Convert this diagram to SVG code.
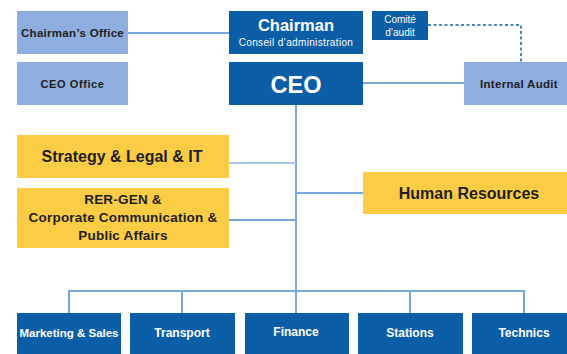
<svg xmlns="http://www.w3.org/2000/svg" width="567" height="354" viewBox="0 0 567 354">
<style>
.dark{fill:#0a5ea8}
.light{fill:#8eaedf}
.yellow{fill:#fccc45}
.conn{stroke:#76a8dc;stroke-width:2;fill:none}
.dash{stroke:#0a5ea8;stroke-width:1.5;fill:none;stroke-dasharray:3 2.5}
text{font-family:"Liberation Sans",Arial,sans-serif;font-weight:bold;text-anchor:middle}
.w{fill:#ffffff}
.k{fill:#1e1e1e}
.n{font-weight:normal}
</style>
<rect width="567" height="354" fill="#ffffff"/>
<g id="connectors">
<line class="conn" x1="128" y1="33" x2="229" y2="33"/>
<line class="conn" x1="363" y1="83" x2="464" y2="83"/>
<path class="dash" d="M428 25 H521 V62"/>
<line class="conn" x1="296" y1="105" x2="296" y2="313"/>
<line class="conn" x1="229" y1="163" x2="296" y2="163" style="stroke:#a9c8ea"/>
<line class="conn" x1="229" y1="220" x2="296" y2="220"/>
<line class="conn" x1="296" y1="193" x2="363" y2="193"/>
<path class="conn" d="M69 313 V291 H524 V313"/>
<line class="conn" x1="182" y1="291" x2="182" y2="313"/>
<line class="conn" x1="410" y1="291" x2="410" y2="313"/>
</g>
<g id="chairmans-office">
<rect class="light" x="17" y="11" width="111" height="43"/>
<text class="k" x="72.5" y="36.5" font-size="11.5" letter-spacing="0.3">Chairman’s Office</text>
</g>
<g id="ceo-office">
<rect class="light" x="17" y="62" width="111" height="43"/>
<text class="k" x="72.5" y="87.5" font-size="11" letter-spacing="0.6">CEO Office</text>
</g>
<g id="chairman">
<rect class="dark" x="229" y="11" width="134" height="43"/>
<text class="w" x="296" y="31" font-size="16.5">Chairman</text>
<text class="w n" x="296" y="46" font-size="10" letter-spacing="0.35">Conseil d’administration</text>
</g>
<g id="ceo">
<rect class="dark" x="229" y="62" width="134" height="43"/>
<text class="w" x="296" y="92.5" font-size="23.5">CEO</text>
</g>
<g id="comite-audit">
<rect class="dark" x="372" y="11" width="56" height="29"/>
<text class="w n" x="400" y="23" font-size="10">Comité</text>
<text class="w n" x="400" y="36" font-size="10">d’audit</text>
</g>
<g id="internal-audit">
<rect class="light" x="464" y="62" width="110" height="43"/>
<text class="k" x="519" y="87.5" font-size="11.5" letter-spacing="0.3">Internal Audit</text>
</g>
<g id="strategy">
<rect class="yellow" x="17" y="135" width="212" height="43"/>
<text class="k" x="122" y="161.5" font-size="16">Strategy &amp; Legal &amp; IT</text>
</g>
<g id="rer-gen">
<rect class="yellow" x="17" y="188" width="212" height="60"/>
<text class="k" x="123" y="204" font-size="13.5" letter-spacing="0.2">RER-GEN &amp;</text>
<text class="k" x="123" y="222" font-size="13.5" letter-spacing="0.2">Corporate Communication &amp;</text>
<text class="k" x="123" y="240" font-size="13.5" letter-spacing="0.2">Public Affairs</text>
</g>
<g id="human-resources">
<rect class="yellow" x="363" y="172" width="210" height="42"/>
<text class="k" x="469" y="198.5" font-size="16">Human Resources</text>
</g>
<g id="marketing-sales">
<rect class="dark" x="17" y="313" width="104" height="45"/>
<text class="w" x="69" y="336.5" font-size="11.5">Marketing &amp; Sales</text>
</g>
<g id="transport">
<rect class="dark" x="130" y="313" width="105" height="45"/>
<text class="w" x="182" y="336.5" font-size="12">Transport</text>
</g>
<g id="finance">
<rect class="dark" x="245" y="313" width="104" height="45"/>
<text class="w" x="296" y="336" font-size="12">Finance</text>
</g>
<g id="stations">
<rect class="dark" x="358" y="313" width="105" height="45"/>
<text class="w" x="410" y="336.5" font-size="12">Stations</text>
</g>
<g id="technics">
<rect class="dark" x="472" y="313" width="104" height="45"/>
<text class="w" x="524" y="337" font-size="12">Technics</text>
</g>
</svg>
